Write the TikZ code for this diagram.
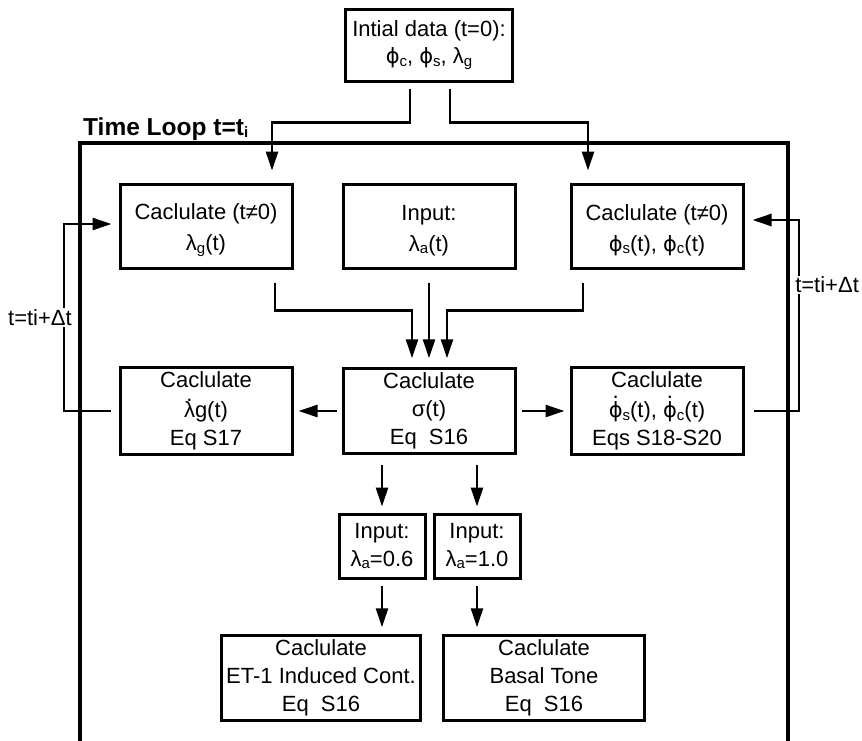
\documentclass[tikz,border=0pt]{standalone}
\usepackage{fontspec}
\setmainfont{Liberation Sans}
\newfontfamily\symfont{DejaVu Sans}
\usetikzlibrary{arrows.meta}
\newcommand{\sub}[1]{\raisebox{-0.12em}{\fontsize{15}{15}\selectfont #1}}
\newcommand{\phis}{{\symfont\fontsize{21}{27}\selectfont ϕ}}
\newcommand{\dotted}[2][0.74em]{\ooalign{#2\cr\hidewidth\raisebox{#1}{.}\hidewidth\cr}}
\tikzset{%
  >={Triangle[width=12pt,length=19pt]},
  % Specifications for style of nodes:
          base/.style = {rectangle, draw=black, line width=3pt,
                         minimum height=84pt, inner sep=4pt,
                         text centered, font=\fontsize{22}{28}\selectfont},
        calbox/.style = {base, minimum width=172pt},
      inputbox/.style = {base, minimum width=86pt, minimum height=64pt},
       flowarr/.style = {->, line width=2.5pt},
     looplabel/.style = {fill=white, inner sep=1pt,
                         font=\fontsize{22}{27}\selectfont},
}

\begin{document}
\begin{tikzpicture}[x=1pt, y=-1pt, node distance=185pt, align=center]
\useasboundingbox (0,0) rectangle (862,740);

\node (Init)   [base, minimum width=167pt, minimum height=72pt] at (429,45)
               {Intial data (t=0):\\[-1pt] \phis\sub{c}, \phis\sub{s}, λ\sub{g}};

\node (InLa)   [calbox, below of=Init, node distance=181pt]  {\rule{0pt}{24pt}Input:\\[3pt] λ\sub{a}(t)};
\node (CalLg)  [calbox, left of=InLa, node distance=223pt]   {\rule{0pt}{24pt}Caclulate (t≠0)\\[3pt] λ\sub{g}(t)};
\node (CalPhi) [calbox, right of=InLa, node distance=228pt]  {\rule{0pt}{24pt}Caclulate (t≠0)\\[3pt] \phis\sub{s}(t), \phis\sub{c}(t)};

\node (Sigma)  [calbox, below of=InLa]     {Caclulate\\ σ(t)\\ Eq~ S16};
\node (DLg)    [calbox, below of=CalLg]    {Caclulate\\[2pt] \dotted{λ}g(t)\\ Eq S17};
\node (DPhi)   [calbox, below of=CalPhi]   {Caclulate\\[2pt] \dotted[0.86em]{\phis}\sub{s}(t), \dotted[0.86em]{\phis}\sub{c}(t)\\ Eqs S18-S20};

\node (InA)    [inputbox, below of=Sigma, node distance=135pt, xshift=-47pt] {Input:\\ λ\sub{a}=0.6};
\node (InB)    [inputbox, below of=Sigma, node distance=135pt, xshift=48pt]  {Input:\\ λ\sub{a}=1.0};

\node (ET)     [base, minimum width=199pt, below of=InA, node distance=132pt, xshift=-61pt]
               {Caclulate\\ ET-1 Induced Cont.\\ Eq~ S16};
\node (Basal)  [base, minimum width=201pt, below of=InB, node distance=132pt, xshift=67pt]
               {Caclulate\\ Basal Tone\\ Eq~ S16};

% time loop frame
\node (TL) [anchor=base west, inner sep=0pt, font=\bfseries\fontsize{24.5}{27}\selectfont]
      at (83,135) {Time Loop t=t\sub{i}};
\draw[line width=4.5pt] (80,745) -- (80,143) -- (788,143) -- (788,745);

\coordinate (LoopL) at (64,224);
\coordinate (LoopR) at (799,220);

\draw[flowarr] ([xshift=-19pt,yshift=-6pt]Init.south) -- ++(0,34) -| ([xshift=66pt,yshift=12pt]CalLg.north);
\draw[flowarr] ([xshift=21pt,yshift=-6pt]Init.south) -- ++(0,34) -| ([xshift=-69pt,yshift=12pt]CalPhi.north);

\draw[flowarr] ([xshift=69pt,yshift=-13pt]CalLg.south) -- ++(0,28) -| ([xshift=-17pt,yshift=9pt]Sigma.north);
\draw[flowarr] ([yshift=-13pt]InLa.south) -- ([yshift=9pt]Sigma.north);
\draw[flowarr] ([xshift=-74pt,yshift=-13pt]CalPhi.south) -- ++(0,28) -| ([xshift=18pt,yshift=9pt]Sigma.north);

\draw[flowarr, shorten <=5pt, shorten >=5pt] (Sigma) -- (DLg);
\draw[flowarr, shorten <=5pt, shorten >=5pt] (Sigma) -- (DPhi);

\draw[flowarr, shorten <=10pt, shorten >=6pt] (InA.north |- Sigma.south) -- (InA.north);
\draw[flowarr, shorten <=10pt, shorten >=6pt] (InB.north |- Sigma.south) -- (InB.north);
\draw[flowarr, shorten <=6pt, shorten >=7pt] (InA.south) -- (InA.south |- ET.north);
\draw[flowarr, shorten <=6pt, shorten >=7pt] (InB.south) -- (InB.south |- Basal.north);

% t = ti + dt loops
\draw[flowarr, shorten <=8pt, shorten >=7pt] (DLg.west) -| (LoopL)
      node[looplabel, pos=0.75, anchor=east, xshift=10pt] {t=ti+Δt}
      -- ([yshift=2pt]CalLg.west);
\draw[flowarr, shorten <=9pt, shorten >=8pt] (DPhi.east) -| (LoopR)
      node[looplabel, pos=0.83, anchor=west, xshift=-6pt] {t=ti+Δt}
      -- ([yshift=6pt]CalPhi.east);
\end{tikzpicture}
\end{document}
